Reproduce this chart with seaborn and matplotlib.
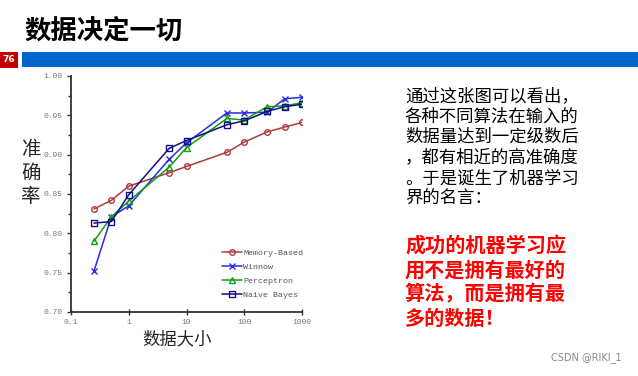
import matplotlib
matplotlib.use("Agg")
import matplotlib.pyplot as plt
from matplotlib.patches import Rectangle
from matplotlib.ticker import MultipleLocator, FixedLocator
import seaborn as sns

# data
sizes = [0.25, 0.5, 1, 5, 10, 50, 100, 250, 500, 1000]
memory_based = [0.831, 0.842, 0.860, 0.877, 0.885, 0.903, 0.916, 0.929, 0.935, 0.941]
winnow = [0.752, 0.821, 0.835, 0.894, 0.915, 0.953, 0.953, 0.954, 0.971, 0.973]
perceptron = [0.790, 0.821, 0.841, 0.884, 0.909, 0.946, 0.944, 0.961, 0.962, 0.966]
naive_bayes = [0.813, 0.815, 0.849, 0.908, 0.918, 0.938, 0.943, 0.955, 0.961, 0.964]
x_ticks = [0.1, 1, 10, 100, 1000]
x_labels = ["0.1", "1", "10", "100", "1000"]

series = [
    ("Memory-Based", memory_based, "#b03a3a", "o"),
    ("Winnow", winnow, "#2a2ae6", "x"),
    ("Perceptron", perceptron, "#10a010", "^"),
    ("Naive Bayes", naive_bayes, "#101080", "s"),
]

sns.set_style("ticks")
plt.rcParams["font.family"] = ["Noto Sans CJK SC", "DejaVu Sans"]

W, H = 638, 376
fig = plt.figure(figsize=(W / 100, H / 100), dpi=100)

# slide header
fig.text(24 / W, 1 - 31 / H, "数据决定一切", fontsize=19, fontweight="bold",
         va="center", ha="left", color="black")
fig.patches.append(Rectangle((0, 1 - 68 / H), 18 / W, 16 / H, transform=fig.transFigure,
                             facecolor="#c00000", edgecolor="none"))
fig.text(9 / W, 1 - 60 / H, "76", fontsize=6.5, fontweight="bold", color="white",
         ha="center", va="center", family="DejaVu Sans")
fig.patches.append(Rectangle((22 / W, 1 - 67 / H), (W - 22) / W, 15 / H,
                             transform=fig.transFigure, facecolor="#0066cc", edgecolor="none"))

# chart
ax = fig.add_axes([71 / W, 1 - 312 / H, 231 / W, 236 / H])
for name, vals, col, mk in series:
    sns.lineplot(x=sizes, y=vals, ax=ax, color=col, marker=mk, markersize=4,
                 mfc="none" if mk != "x" else col, mec=col, mew=1.0,
                 linewidth=1.1, label=name)

ax.set_xscale("log")
ax.set_xlim(0.1, 1000)
ax.set_ylim(0.70, 1.00)
ax.xaxis.set_major_locator(FixedLocator(x_ticks))
ax.xaxis.set_minor_locator(FixedLocator([]))
ax.set_xticklabels(x_labels)
ax.yaxis.set_major_locator(MultipleLocator(0.05))
ax.yaxis.set_minor_locator(MultipleLocator(0.025))
ax.yaxis.set_major_formatter(matplotlib.ticker.FormatStrFormatter("%.2f"))
for lab in ax.get_xticklabels() + ax.get_yticklabels():
    lab.set_family("Liberation Mono")
    lab.set_fontsize(5.8)
    lab.set_color("#777777")
ax.tick_params(axis="both", which="major", length=3, width=1, color="#333333", pad=3)
ax.tick_params(axis="x", direction="inout", length=4)
ax.tick_params(axis="y", which="minor", length=2, width=1, color="#333333")
sns.despine(ax=ax)
for s in ["left", "bottom"]:
    ax.spines[s].set_linewidth(1.3)
    ax.spines[s].set_color("#333333")
ax.set_xlabel("")
ax.set_ylabel("")

leg = ax.legend(loc="lower right", bbox_to_anchor=(1.03, 0.03), frameon=False,
                prop={"family": "Liberation Mono", "size": 6}, handlelength=2.4,
                handletextpad=0.1, labelspacing=0.75, borderpad=0.2)
for t in leg.get_texts():
    t.set_color("#555555")

fig.text(31 / W, 1 - 173 / H, "准\n确\n率", fontsize=14, ha="center", va="center",
         linespacing=1.15)
fig.text(177 / W, 1 - 339 / H, "数据大小", fontsize=12.5, ha="center", va="center")

# right side text
black_lines = ["通过这张图可以看出，", "各种不同算法在输入的", "数据量达到一定级数后",
               "，都有相近的高准确度", "。于是诞生了机器学习", "界的名言："]
red_lines = ["成功的机器学习应", "用不是拥有最好的", "算法，而是拥有最", "多的数据！"]
fig.text(405 / W, 1 - 87 / H, "\n".join(black_lines), fontsize=12.5, ha="left", va="top",
         linespacing=1.18, color="black")
fig.text(405 / W, 1 - 235 / H, "\n".join(red_lines), fontsize=14.5, fontweight="bold",
         ha="left", va="top", linespacing=1.2, color="#ff0000")

fig.text(622 / W, 1 - 358 / H, "CSDN @RIKI_1", fontsize=7, color="#888888",
         ha="right", va="center", family="DejaVu Sans")

fig.savefig("out.png", dpi=100)
